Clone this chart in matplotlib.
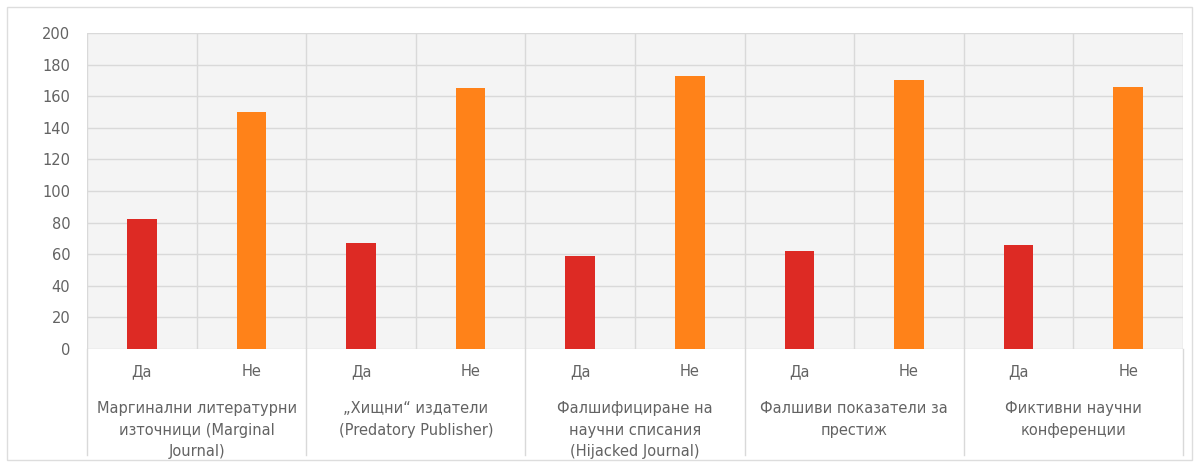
import matplotlib.pyplot as plt
from matplotlib.patches import Rectangle
import matplotlib.transforms as mtransforms

plt.rcParams['font.family'] = ['DejaVu Sans']

# data
groups = ['Маргинални литературни\nизточници (Marginal\nJournal)',
          '„Хищни“ издатели\n(Predatory Publisher)',
          'Фалшифициране на\nнаучни списания\n(Hijacked Journal)',
          'Фалшиви показатели за\nпрестиж',
          'Фиктивни научни\nконференции']
answers = ['Да', 'Не']
da_values = [82, 67, 59, 62, 66]
ne_values = [150, 165, 173, 170, 166]
bar_colors = ['#DD2A24', '#FF8219']
text_color = '#636363'
grid_color = '#D9D9D9'

fig = plt.figure(figsize=(11.95, 4.65), dpi=100)
ax = fig.add_axes([87 / 1195, 1 - 349 / 465, (1183 - 87) / 1195, (349 - 33) / 465])
ax.set_facecolor('#F4F4F4')

values = []
colors = []
ticklabels = []
for d, n in zip(da_values, ne_values):
    values += [d, n]
    colors += bar_colors
    ticklabels += answers
xpos = [i + 0.5 for i in range(len(values))]
ax.bar(xpos, values, width=0.27, color=colors, zorder=3)

ax.set_xlim(0, len(values))
ax.set_ylim(0, 200)
ax.set_yticks(range(0, 201, 20))
ax.set_xticks(xpos)
ax.set_xticklabels(ticklabels, fontsize=10.5, color=text_color)
ax.tick_params(axis='x', length=0, pad=11)
ax.tick_params(axis='y', length=0, pad=12, labelsize=10.5, labelcolor=text_color)

for y in range(0, 201, 20):
    ax.axhline(y, color=grid_color, linewidth=1, zorder=1)
for x in range(0, len(values) + 1):
    ax.axvline(x, color=grid_color, linewidth=1, zorder=1)
for s in ax.spines.values():
    s.set_visible(False)

# group separators through the label area
trans = mtransforms.blended_transform_factory(ax.transData, ax.transAxes)
for x in range(0, len(values) + 1, 2):
    ax.plot([x, x], [0, -0.335], transform=trans, color=grid_color,
            linewidth=1, clip_on=False, zorder=1)

for i, g in enumerate(groups):
    ax.text(2 * i + 1, -0.165, g, transform=trans, ha='center', va='top',
            fontsize=10.5, color=text_color, linespacing=1.55)

fig.patches.append(Rectangle((7 / 1195, 5 / 465), 1185 / 1195, 453 / 465,
                             transform=fig.transFigure, fill=False,
                             edgecolor='#DDDDDD', linewidth=1))

plt.savefig('out.png', dpi=100)
